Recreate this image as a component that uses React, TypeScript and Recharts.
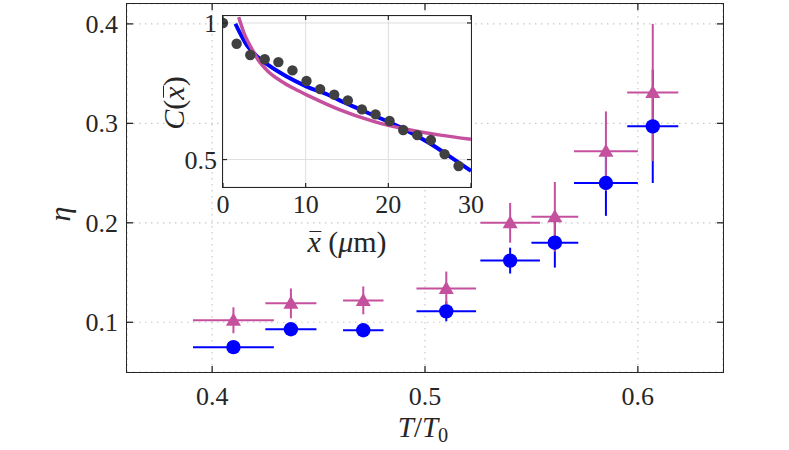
import { CartesianGrid, ComposedChart, ErrorBar, Line, Scatter, ScatterChart, XAxis, YAxis } from "recharts";

// main panel: eta vs T/T0
const tempRatio = [0.41, 0.437, 0.471, 0.51, 0.54, 0.561, 0.585, 0.607];
const tempErr = [0.019, 0.012, 0.0095, 0.014, 0.014, 0.011, 0.015, 0.012];
const etaBlue = [0.075, 0.093, 0.092, 0.111, 0.162, 0.18, 0.24, 0.297];
const etaBlueErr = [0.004, 0.006, 0.005, 0.01, 0.013, 0.025, 0.033, 0.057];
const etaPink = [0.102, 0.119, 0.122, 0.134, 0.2, 0.206, 0.272, 0.331];
const etaPinkErr = [0.013, 0.015, 0.014, 0.017, 0.02, 0.035, 0.04, 0.069];
const tTicks = [0.4, 0.5, 0.6];
const etaTicks = [0.1, 0.2, 0.3, 0.4];

// inset: correlation C(x) vs distance
const dotX = [0, 1.65, 3.3, 5.05, 6.7, 8.4, 10.1, 11.75, 13.45, 15.1, 16.8, 18.45, 20.15, 21.8, 23.5, 25.15, 26.8, 28.5];
const dotC = [1.0, 0.9, 0.85, 0.832, 0.82, 0.786, 0.745, 0.715, 0.695, 0.675, 0.645, 0.629, 0.608, 0.581, 0.566, 0.552, 0.514, 0.484];
const blueFitX = [1.5, 2.8, 4.05, 5.45, 7.7, 10, 12.9, 14.6, 18.2, 21.8, 25, 27.5, 30];
const blueFitC = [0.996, 0.898, 0.846, 0.808, 0.762, 0.726, 0.692, 0.669, 0.626, 0.585, 0.543, 0.507, 0.472];
const pinkFitX = [1.9, 2.6, 3.4, 4.2, 5.4, 7.0, 8.7, 10.5, 14, 18.2, 22.2, 26.3, 30];
const pinkFitC = [1.03, 0.944, 0.883, 0.832, 0.784, 0.745, 0.715, 0.689, 0.645, 0.607, 0.583, 0.566, 0.554];
const xbarTicks = [0, 10, 20, 30];
const cTicks = [0.5, 1];

const FONT = '"Liberation Serif", "Times New Roman", Tinos, "DejaVu Serif", "Noto Serif", FreeSerif, Times, serif';
const INK = "#262626";
const BLUE = "#0000ff";
const PINK = "#c4509e";

const W = 789;
const H = 450;
// main plot box
const ML = 127, MR = 723, MT = 4, MB = 372;
// inset plot box
const IL = 223, IR = 471, IT = 16, IB = 187;

const blueData = tempRatio.map((x, i) => ({ x, y: etaBlue[i], ex: tempErr[i], ey: etaBlueErr[i] }));
const pinkData = tempRatio.map((x, i) => ({ x, y: etaPink[i], ex: tempErr[i], ey: etaPinkErr[i] }));
const dots = dotX.map((x, i) => ({ x, c: dotC[i] }));
const blueFit = blueFitX.map((x, i) => ({ x, c: blueFitC[i] }));
const pinkFit = pinkFitX.map((x, i) => ({ x, c: pinkFitC[i] }));

const circle = (p: any) => <circle cx={p.cx} cy={p.cy} r={7.2} fill={BLUE} />;
const triangle = (p: any) => (
  <polygon points={`${p.cx},${p.cy - 7.5} ${p.cx - 7.5},${p.cy + 5.5} ${p.cx + 7.5},${p.cy + 5.5}`} fill={PINK} />
);

const fmt = (v: number) => String(v);

function MainXTick(p: any) {
  const c = p.payload.coordinate ?? p.x;
  return (
    <g>
      <line x1={c} x2={c} y1={MB} y2={MB - 6} stroke={INK} strokeWidth={1.3} />
      <line x1={c} x2={c} y1={MT} y2={MT + 6} stroke={INK} strokeWidth={1.3} />
      <text x={c} y={405} textAnchor="middle" fontFamily={FONT} fontSize={26} fill={INK}>{p.payload.value.toFixed(1)}</text>
    </g>
  );
}

function MainYTick(p: any) {
  const c = p.payload.coordinate ?? p.y;
  return (
    <g>
      <line x1={ML} x2={ML + 6} y1={c} y2={c} stroke={INK} strokeWidth={1.3} />
      <line x1={MR} x2={MR - 6} y1={c} y2={c} stroke={INK} strokeWidth={1.3} />
      <text x={ML - 9} y={c + 9} textAnchor="end" fontFamily={FONT} fontSize={26} fill={INK}>{p.payload.value.toFixed(1)}</text>
    </g>
  );
}

function InsetXTick(p: any) {
  const c = p.payload.coordinate ?? p.x;
  return (
    <g>
      <line x1={c} x2={c} y1={IB} y2={IB - 4} stroke={INK} strokeWidth={1.2} />
      <line x1={c} x2={c} y1={IT} y2={IT + 4} stroke={INK} strokeWidth={1.2} />
      <text x={c} y={213} textAnchor="middle" fontFamily={FONT} fontSize={26} fill={INK}>{fmt(p.payload.value)}</text>
    </g>
  );
}

function InsetYTick(p: any) {
  const c = p.payload.coordinate ?? p.y;
  return (
    <g>
      <line x1={IL} x2={IL + 4} y1={c} y2={c} stroke={INK} strokeWidth={1.2} />
      <line x1={IR} x2={IR - 4} y1={c} y2={c} stroke={INK} strokeWidth={1.2} />
      <text x={IL - 6} y={c + 9} textAnchor="end" fontFamily={FONT} fontSize={26} fill={INK}>{fmt(p.payload.value)}</text>
    </g>
  );
}

const box = (l: number, t: number, r: number, b: number, w: number) => (
  <div
    style={{
      position: "absolute",
      left: l - w / 2,
      top: t - w / 2,
      width: r - l + w,
      height: b - t + w,
      border: `${w}px solid ${INK}`,
      boxSizing: "border-box",
      pointerEvents: "none",
    }}
  />
);

const label = (x: number, y: number, size: number, content: any, rotate = 0) => (
  <div
    style={{
      position: "absolute",
      left: x,
      top: y,
      transform: `translate(-50%, -50%) rotate(${rotate}deg)`,
      fontFamily: FONT,
      fontSize: size,
      color: INK,
      whiteSpace: "nowrap",
      lineHeight: 1,
    }}
  >
    {content}
  </div>
);

const xbar = (
  <span style={{ position: "relative", fontStyle: "italic", display: "inline-block" }}>
    x
    <span style={{ position: "absolute", left: "0.08em", right: "-0.02em", top: "0.12em", borderTop: `1.5px solid ${INK}` }} />
  </span>
);

export default function App() {
  return (
    <div style={{ position: "absolute", left: 0, top: 0, width: W, height: H, background: "#fff", overflow: "hidden" }}>
      <div style={{ position: "absolute", left: 0, top: 0 }}>
        <ScatterChart width={W} height={H} margin={{ top: MT, right: W - MR, bottom: 0, left: 0 }}>
          <CartesianGrid stroke="#c8c8c8" strokeDasharray="1.5 4.5" strokeWidth={1.2} />
          <XAxis type="number" dataKey="x" domain={[0.36, 0.64]} ticks={tTicks} height={H - MB} axisLine={false} tickLine={false} tick={(p: any) => <MainXTick {...p} />} allowDataOverflow />
          <YAxis type="number" dataKey="y" domain={[0.05, 0.42]} ticks={etaTicks} width={ML} axisLine={false} tickLine={false} tick={(p: any) => <MainYTick {...p} />} allowDataOverflow />
          <Scatter data={blueData} fill={BLUE} shape={circle} isAnimationActive={false}>
            <ErrorBar dataKey="ex" direction="x" width={0} stroke={BLUE} strokeWidth={2} isAnimationActive={false} />
            <ErrorBar dataKey="ey" direction="y" width={0} stroke={BLUE} strokeWidth={2} isAnimationActive={false} />
          </Scatter>
          <Scatter data={pinkData} fill={PINK} shape={triangle} isAnimationActive={false}>
            <ErrorBar dataKey="ex" direction="x" width={0} stroke={PINK} strokeWidth={2} isAnimationActive={false} />
            <ErrorBar dataKey="ey" direction="y" width={0} stroke={PINK} strokeWidth={2} isAnimationActive={false} />
          </Scatter>
        </ScatterChart>
      </div>
      {box(ML, MT, MR, MB, 1.5)}

      <div style={{ position: "absolute", left: 0, top: 0 }}>
        <ComposedChart width={W} height={H} margin={{ top: IT, right: W - IR, bottom: 0, left: 0 }}>
          <CartesianGrid stroke="#dedede" strokeWidth={1} fill="#ffffff" fillOpacity={1} />
          <XAxis type="number" dataKey="x" domain={[0, 30]} ticks={xbarTicks} height={H - IB} axisLine={false} tickLine={false} tick={(p: any) => <InsetXTick {...p} />} allowDataOverflow />
          <YAxis type="number" scale="log" domain={[0.435, 1.036]} ticks={cTicks} width={IL} axisLine={false} tickLine={false} tick={(p: any) => <InsetYTick {...p} />} allowDataOverflow />
          <Scatter data={dots} dataKey="c" fill="#404040" shape={(p: any) => <circle cx={p.cx} cy={p.cy} r={5.2} fill="#404040" />} isAnimationActive={false} />
          <Line data={blueFit} dataKey="c" type="monotone" stroke={BLUE} strokeWidth={4} dot={false} isAnimationActive={false} />
          <Line data={pinkFit} dataKey="c" type="monotone" stroke={PINK} strokeWidth={3.5} dot={false} isAnimationActive={false} />
        </ComposedChart>
      </div>
      {box(IL, IT, IR, IB, 1.5)}

      {label(60, 214, 30, <span style={{ fontStyle: "italic" }}>η</span>, -90)}
      {label(423, 429, 29, <span><i>T</i>/<i>T</i><sub style={{ fontSize: "0.7em", verticalAlign: "-0.25em" }}>0</sub></span>)}
      {label(174, 103, 30, <span><i>C</i>({xbar})</span>, -90)}
      {label(347, 242, 30, <span>{xbar} (<i>μ</i>m)</span>)}
    </div>
  );
}
